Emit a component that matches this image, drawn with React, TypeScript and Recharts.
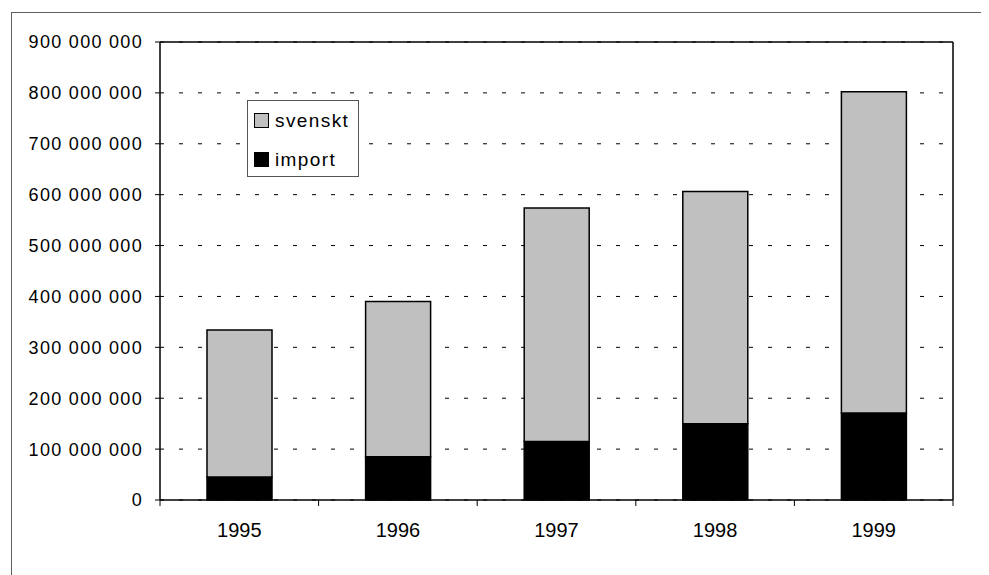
import {
  BarChart,
  Bar,
  XAxis,
  YAxis,
  CartesianGrid,
  ReferenceLine,
  Legend,
} from "recharts";

const years = ["1995", "1996", "1997", "1998", "1999"];
const importValues = [45000000, 85000000, 115000000, 150000000, 171000000];
const svensktValues = [289000000, 305000000, 459000000, 456000000, 631000000];
const yTicks = [0, 100000000, 200000000, 300000000, 400000000, 500000000, 600000000, 700000000, 800000000, 900000000];

const data = years.map((year, i) => ({
  year,
  import: importValues[i],
  svenskt: svensktValues[i],
}));

const font = "'Liberation Sans', Arial, sans-serif";

function formatY(v: number) {
  return String(v).replace(/\B(?=(\d{3})+(?!\d))/g, " ");
}

// year label plus the small tick marks on the category boundaries
function YearTick({ x, y, payload, index, visibleTicksCount }: any) {
  const half = payload?.offset ?? 0;
  const last = index === visibleTicksCount - 1;
  return (
    <g>
      <line x1={x - half} x2={x - half} y1={y} y2={y + 6} stroke="#000" strokeWidth={1} />
      {last && <line x1={x + half} x2={x + half} y1={y} y2={y + 6} stroke="#000" strokeWidth={1} />}
      <text
        x={x}
        y={y + 23}
        dy="0.71em"
        textAnchor="middle"
        fontSize={20}
        fontFamily={font}
        fill="#000"
      >
        {payload.value}
      </text>
    </g>
  );
}

function LegendBox({ payload }: any) {
  const items = [...(payload ?? [])].reverse();
  return (
    <div
      style={{
        border: "1px solid #555",
        background: "#fff",
        width: 110,
        height: 75,
        boxSizing: "content-box",
        fontFamily: font,
        fontSize: 19,
        letterSpacing: 1.4,
        color: "#000",
      }}
    >
      {items.map((p: any, i: number) => (
        <div
          key={p.value}
          style={{
            position: "absolute",
            left: 7,
            top: 12 + i * 39,
            display: "flex",
            alignItems: "center",
            height: 17,
          }}
        >
          <span
            style={{
              display: "inline-block",
              width: 13,
              height: 13,
              border: "1px solid #000",
              background: p.color,
              marginRight: 6,
            }}
          />
          <span>{p.value}</span>
        </div>
      ))}
    </div>
  );
}

export default function App() {
  return (
    <div
      style={{
        position: "relative",
        width: 989,
        height: 575,
        margin: "-8px 0 0 -8px",
        overflow: "hidden",
      }}
    >
      <div
        style={{
          position: "absolute",
          left: 11,
          top: 12,
          right: -5,
          bottom: -5,
          borderTop: "1px solid #606060",
          borderLeft: "1px solid #606060",
        }}
      />
      <BarChart
        width={981}
        height={559}
        data={data}
        margin={{ top: 34, right: 0, bottom: 0, left: 0 }}
        style={{ position: "absolute", left: 8, top: 8 }}
      >
        <CartesianGrid
          horizontal
          vertical={false}
          stroke="#000"
          strokeDasharray="4 15"
        />
        <XAxis
          dataKey="year"
          tickLine={false}
          tickSize={0}
          tickMargin={0}
          axisLine={{ stroke: "#000", strokeWidth: 1.5 }}
          tick={<YearTick />}
          interval={0}
          height={67}
        />
        <YAxis
          domain={[0, 900000000]}
          ticks={yTicks}
          tickFormatter={formatY}
          width={152}
          tickSize={5}
          tickMargin={12}
          tickLine={{ stroke: "#000", strokeWidth: 1 }}
          axisLine={{ stroke: "#000", strokeWidth: 1.5 }}
          tick={{ fontSize: 18, fill: "#000", fontFamily: font, letterSpacing: 1.3 }}
          interval={0}
        />
        <YAxis
          yAxisId="r"
          orientation="right"
          domain={[0, 900000000]}
          width={36}
          tick={false}
          tickLine={false}
          axisLine={{ stroke: "#000", strokeWidth: 1.5 }}
        />
        <ReferenceLine y={900000000} stroke="#000" strokeWidth={1.5} />
        <Legend
          layout="horizontal"
          align="center"
          verticalAlign="middle"
          content={<LegendBox />}
          wrapperStyle={{ left: 239, top: 92, width: 112, height: 77 }}
        />
        <Bar
          dataKey="import"
          name="import"
          stackId="a"
          fill="#000"
          stroke="#000"
          strokeWidth={1.5}
          barSize={65}
          isAnimationActive={false}
        />
        <Bar
          dataKey="svenskt"
          name="svenskt"
          stackId="a"
          fill="#c0c0c0"
          stroke="#000"
          strokeWidth={1.5}
          barSize={65}
          isAnimationActive={false}
        />
      </BarChart>
    </div>
  );
}
